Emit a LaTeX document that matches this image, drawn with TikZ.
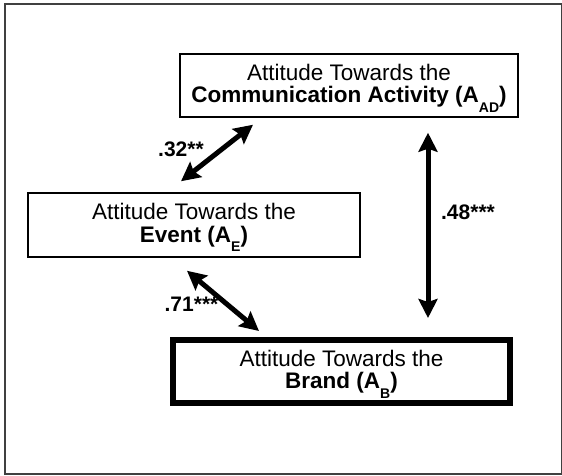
\documentclass[tikz,border=0pt]{standalone}
\usepackage{fontspec}
\setmainfont{Liberation Sans}
\usetikzlibrary{arrows.meta,calc}
\newcommand{\lowidx}[1]{\smash{\raisebox{-9.5pt}{\fontsize{14}{14}\selectfont #1}}}
\tikzset{
  construct/.style={draw=black, line width=1.5pt, inner sep=0pt, align=center,
    font=\fontsize{22.5}{22.5}\selectfont},
  focal/.style={construct, line width=6pt},
  corr/.style={line width=5pt,
    {Stealth[length=19pt,width=19pt,inset=3pt]}-{Stealth[length=19pt,width=19pt,inset=3pt]}},
  coef/.style={inner sep=0pt, font=\fontsize{21}{21}\selectfont\bfseries},
  frame/.style={draw=black!75, line width=1.5pt}
}
\begin{document}
\begin{tikzpicture}[x=1pt,y=-1pt]
  \useasboundingbox (0,0) rectangle (562,476);
  \draw[frame] (5,4) rectangle (561.5,474);

  % constructs
  \node[construct, minimum width=338pt, minimum height=63pt] (ad) at (349,85.5)
    {Attitude Towards the\\\textbf{Communication Activity (A\lowidx{AD})}};
  \node[construct, minimum width=332pt, minimum height=64pt] (ev) at (194,225)
    {Attitude Towards the\\\textbf{Event (A\lowidx{E})}};
  \node[focal, minimum width=337pt, minimum height=63pt] (br) at (341.5,371.5)
    {Attitude Towards the\\\textbf{Brand (A\lowidx{B})}};

  % correlations between the attitudes
  \draw[corr] ($(ev.north)+(-13,-11)$) -- ($(ad.south)+(-96,7)$);
  \draw[corr] ($(ad.south)+(79,15)$) -- ($(br.north)+(86.5,-19)$);
  \draw[corr] ($(ev.south)+(-7,13)$) -- ($(br.north)+(-82.5,-6)$);

  % coefficients
  \node[coef] (l32) at (181,149.5) {.32**};
  \node[coef] (l48) at (468,212) {.48***};
  \node[coef] (l71) at (191.5,304) {.71***};
\end{tikzpicture}
\end{document}
